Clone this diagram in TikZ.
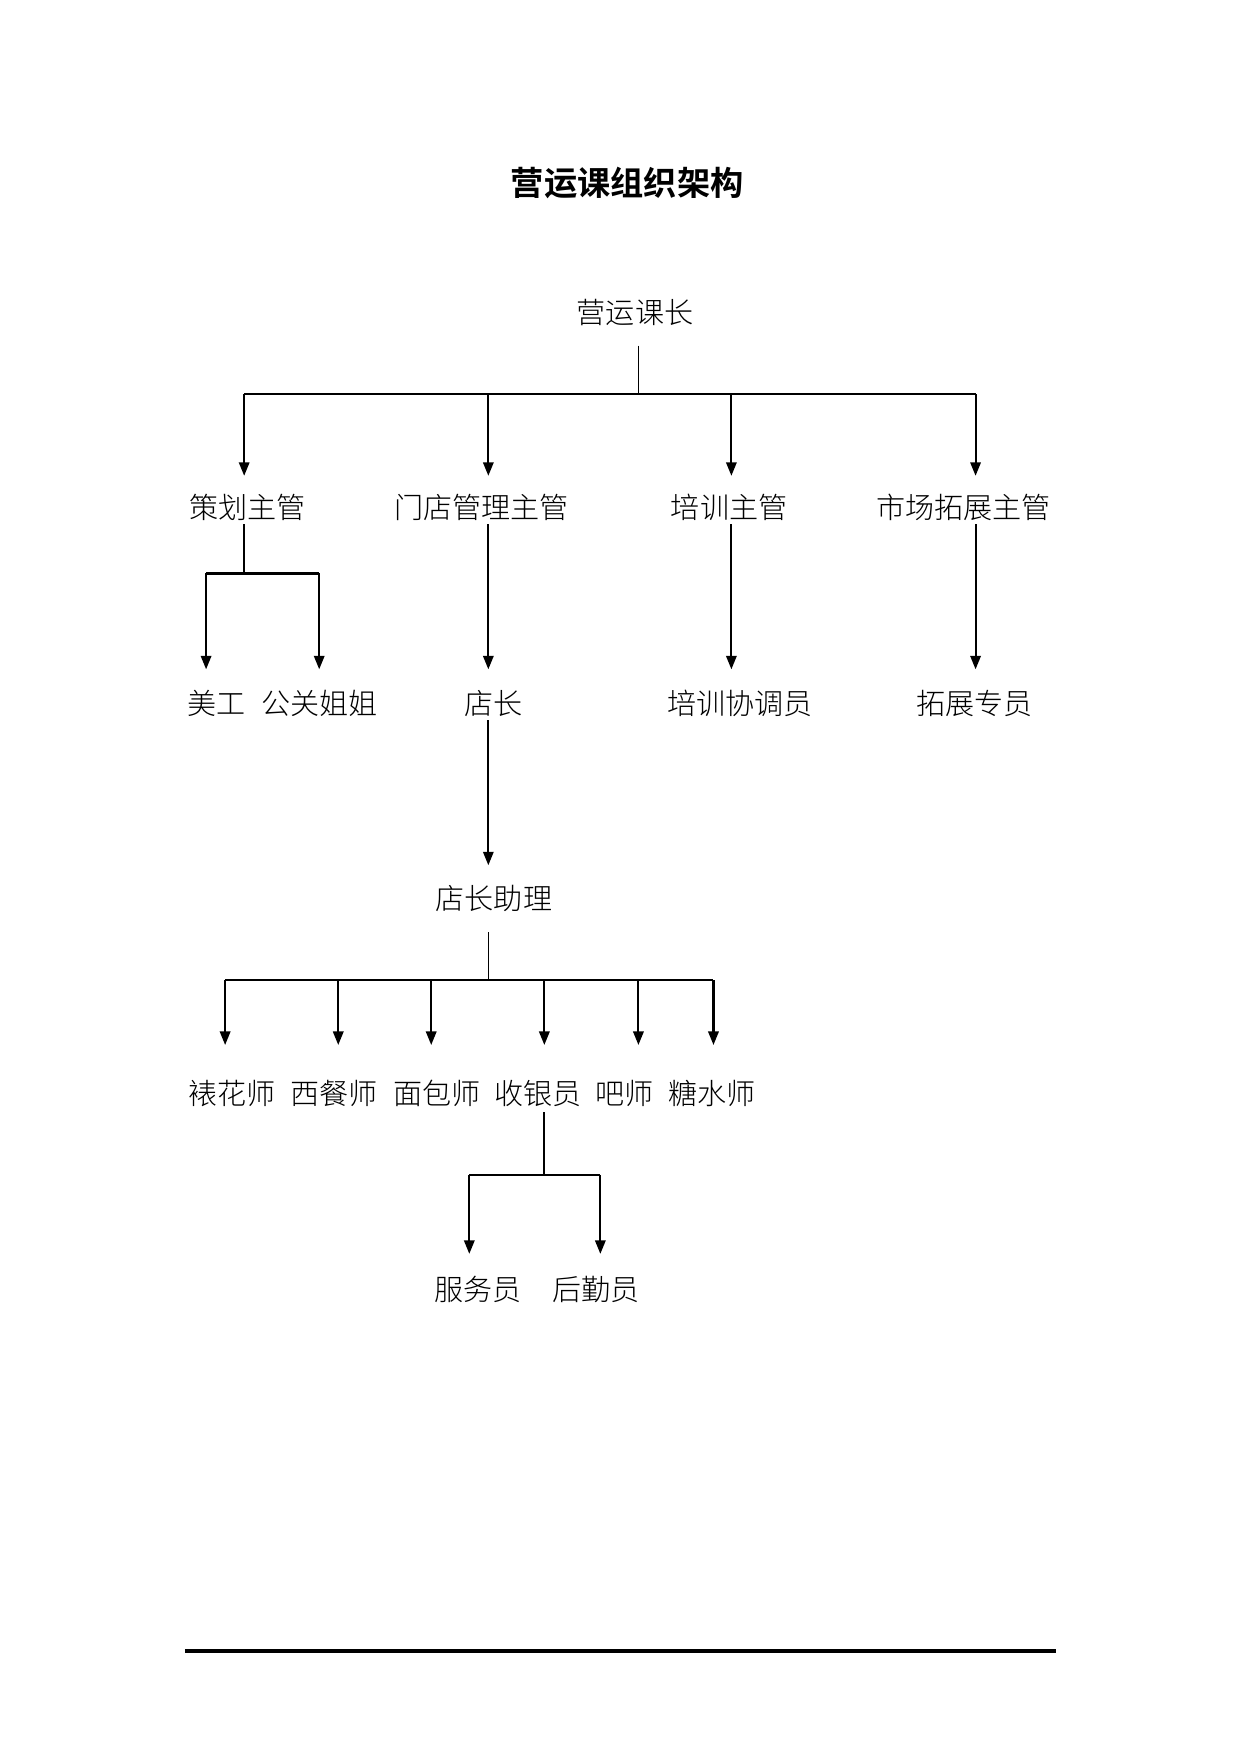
\documentclass[tikz,border=0pt]{standalone}
\usepackage{fontspec}
\usetikzlibrary{arrows.meta}
\IfFontExistsTF{Noto Sans CJK SC Light}
  {\newfontfamily\cjk{Noto Sans CJK SC Light}[BoldFont={Noto Sans CJK SC Bold}]}
  {\newfontfamily\cjk{Noto Sans CJK SC}}

\begin{document}
\begin{tikzpicture}[x=0.018955cm,y=-0.018955cm,
    post/.style={font=\cjk\fontsize{14}{14}\selectfont,inner sep=0pt,text height=12.3pt,text depth=1.7pt},
    link/.style={line width=1pt},
    feed/.style={line width=0.5pt},
    arr/.style={line width=1pt,-{Triangle[length=6.5pt,width=5pt]}}]
          \useasboundingbox (0,0) rectangle (1108,1566);
          \node[font=\cjk\bfseries\fontsize{16}{16}\selectfont] (title) at (560,163) {营运课组织架构};
          \node[post] (boss) at (567,279) {营运课长};
          \node[post] (cehua) at (221,453) {策划主管};
          \node[post] (mendian) at (430,453) {门店管理主管};
          \node[post] (peixun) at (651,453) {培训主管};
          \node[post] (shichang) at (860,453) {市场拓展主管};
          \node[post] (meigong) at (193,628) {美工};
          \node[post] (gongguan) at (285,628) {公关姐姐};
          \node[post] (dianzhang) at (441,628) {店长};
          \node[post] (xietiao) at (661,628) {培训协调员};
          \node[post] (tuozhan) at (870,628) {拓展专员};
          \node[post] (zhuli) at (441,802) {店长助理};
          \node[post] (biaohua) at (207,976) {裱花师};
          \node[post] (xican) at (298,976) {西餐师};
          \node[post] (mianbao) at (390,976) {面包师};
          \node[post] (shouyin) at (480,976) {收银员};
          \node[post] (bashi) at (558,976) {吧师};
          \node[post] (tangshui) at (636,976) {糖水师};
          \node[post] (fuwu) at (427,1151) {服务员};
          \node[post] (houqin) at (532,1151) {后勤员};
          \draw[feed,shorten <=8.7pt] (570,0 |- boss.south) -- (570,352);
          \draw[link] (218,352) -- (871,352);
          \foreach \x/\n in {218/cehua,436/mendian,653/peixun,871/shichang}
            \draw[arr,shorten >=8pt] (\x,352) -- (\x,0 |- \n.north);
          \draw[link,shorten <=1pt] (218,0 |- cehua.south) -- (218,512);
          \draw[link] (184,512) -- (285,512);
          \foreach \x/\n in {184/meigong,285/gongguan}
            \draw[arr,shorten >=9.2pt] (\x,512) -- (\x,0 |- \n.north);
          \draw[arr,shorten <=1pt,shorten >=9.2pt] (436,0 |- mendian.south) -- (436,0 |- dianzhang.north);
          \draw[arr,shorten <=1pt,shorten >=9.2pt] (653,0 |- peixun.south) -- (653,0 |- xietiao.north);
          \draw[arr,shorten <=1pt,shorten >=9.2pt] (871,0 |- shichang.south) -- (871,0 |- tuozhan.north);
          \draw[arr,shorten <=1pt,shorten >=8.7pt] (436,0 |- dianzhang.south) -- (436,0 |- zhuli.north);
          \draw[feed,shorten <=9.2pt] (436,0 |- zhuli.south) -- (436,875);
          \draw[link] (201,875) -- (637,875);
          \foreach \x/\n in {201/biaohua,302/xican,385/mianbao,486/shouyin,570/bashi,637/tangshui}
            \draw[arr,shorten >=16pt] (\x,875) -- (\x,0 |- \n.north);
          \draw[link,shorten <=2pt] (486,0 |- shouyin.south) -- (486,1049);
          \draw[link] (419,1049) -- (536,1049);
          \foreach \x/\n in {419/fuwu,536/houqin}
            \draw[arr,shorten >=9.8pt] (\x,1049) -- (\x,0 |- \n.north);
          \draw[line width=1.5pt] (165,1474) -- (943,1474);
        \end{tikzpicture}
\end{document}
